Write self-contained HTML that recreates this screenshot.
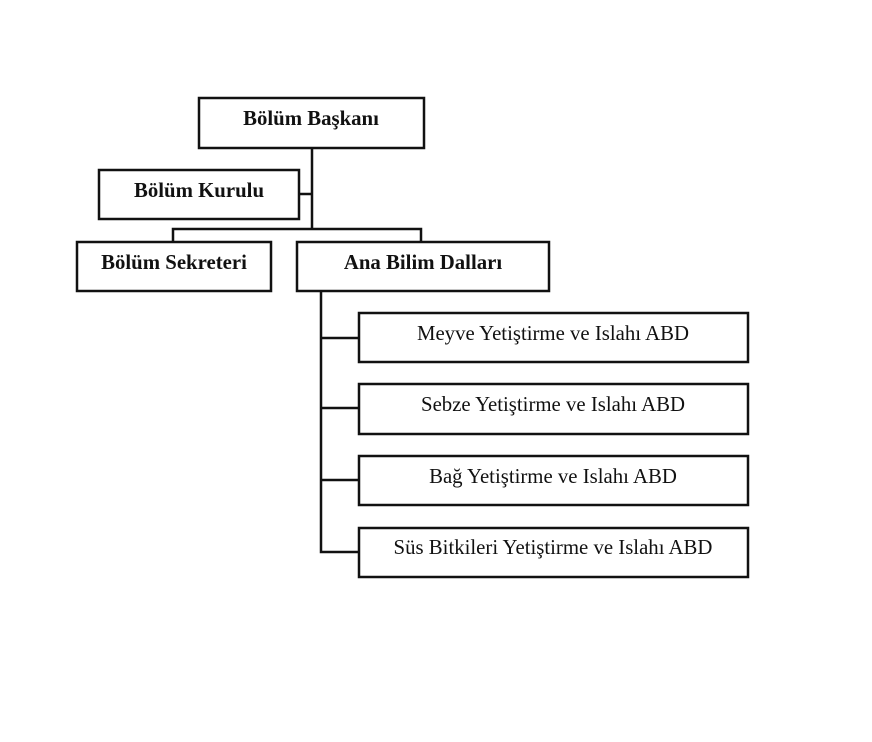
<!DOCTYPE html>
<html><head><meta charset="utf-8"><style>
body{margin:0;background:#fff;width:872px;height:737px;overflow:hidden}
svg text{font-family:"Liberation Serif",serif;fill:#111}
</style></head><body>
<svg width="872" height="737" xmlns="http://www.w3.org/2000/svg">
<g fill="none" stroke="#111" stroke-width="2.5">
<rect x="199" y="98" width="225" height="50"/>
<rect x="99" y="170" width="200" height="49"/>
<rect x="77" y="242" width="194" height="49"/>
<rect x="297" y="242" width="252" height="49"/>
<rect x="359" y="313" width="389" height="49"/>
<rect x="359" y="384" width="389" height="50"/>
<rect x="359" y="456" width="389" height="49"/>
<rect x="359" y="528" width="389" height="49"/>
<path d="M312 148V229M299 194H312M173 242V229H421V242M321 291V552H359M321 338H359M321 408H359M321 480H359"/>
</g>
<g font-size="20.8" font-weight="bold" text-anchor="middle">
<text x="311" y="125">Bölüm Başkanı</text>
<text x="199" y="197">Bölüm Kurulu</text>
<text x="174" y="269">Bölüm Sekreteri</text>
<text x="423" y="269">Ana Bilim Dalları</text>
</g>
<g font-size="20.8" text-anchor="middle">
<text x="553" y="340">Meyve Yetiştirme ve Islahı ABD</text>
<text x="553" y="411">Sebze Yetiştirme ve Islahı ABD</text>
<text x="553" y="483">Bağ Yetiştirme ve Islahı ABD</text>
<text x="553" y="554">Süs Bitkileri Yetiştirme ve Islahı ABD</text>
</g>
</svg>
</body></html>
